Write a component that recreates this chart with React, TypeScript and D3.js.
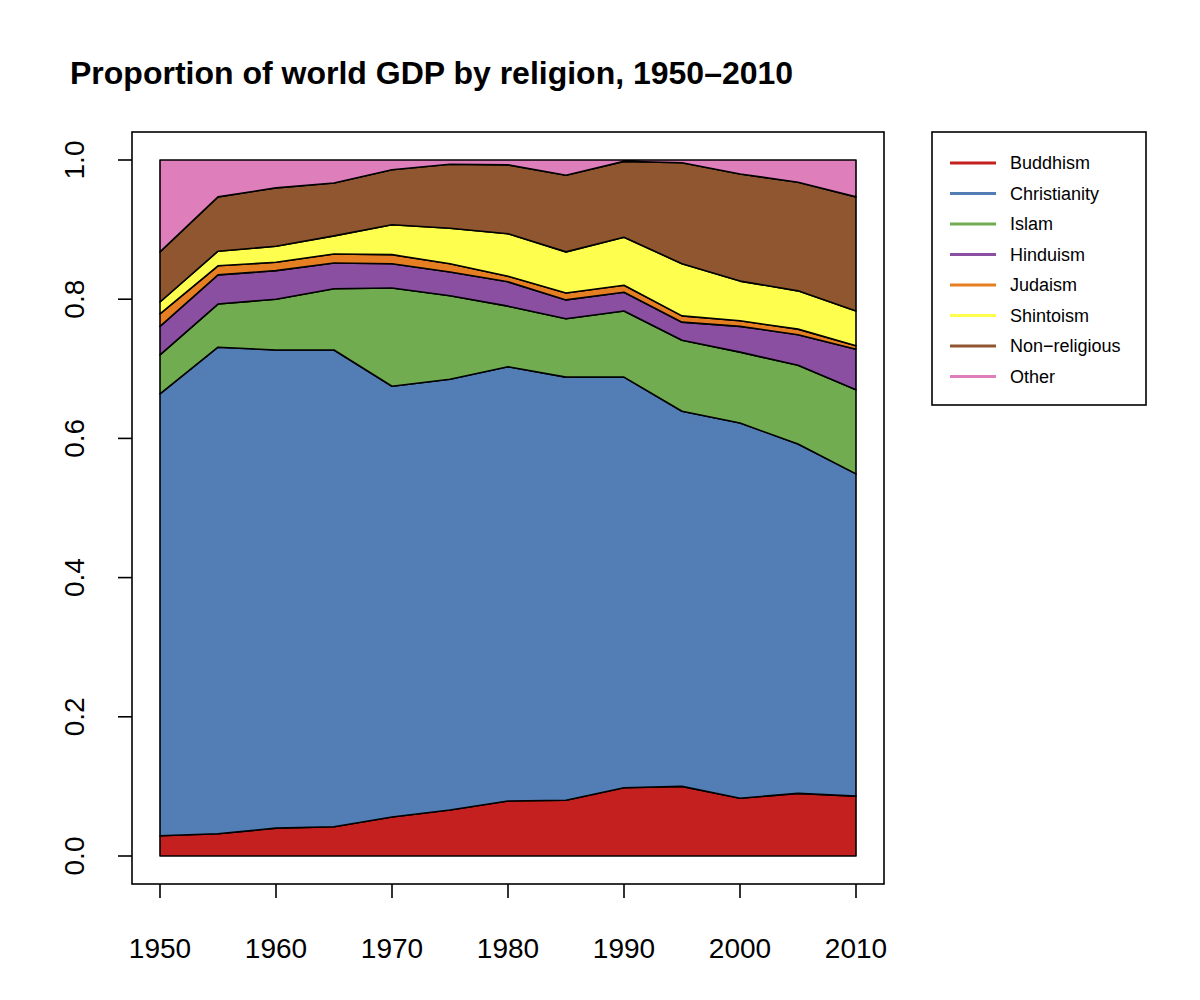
import * as d3 from 'd3';

const years = [1950, 1955, 1960, 1965, 1970, 1975, 1980, 1985, 1990, 1995, 2000, 2005, 2010];
const religions = ['Buddhism', 'Christianity', 'Islam', 'Hinduism', 'Judaism', 'Shintoism', 'Non-religious', 'Other'];
const colors = ['#c4201f', '#527db5', '#71ad50', '#8a4fa0', '#e57f22', '#fefe4f', '#8f5630', '#de7fbc'];

const buddhism = [0.029, 0.032, 0.040, 0.042, 0.056, 0.066, 0.079, 0.080, 0.098, 0.100, 0.083, 0.090, 0.086];
const christianity = [0.635, 0.699, 0.687, 0.685, 0.619, 0.619, 0.624, 0.608, 0.590, 0.539, 0.539, 0.502, 0.463];
const islam = [0.056, 0.062, 0.073, 0.088, 0.141, 0.120, 0.087, 0.084, 0.095, 0.102, 0.102, 0.113, 0.121];
const hinduism = [0.041, 0.042, 0.041, 0.037, 0.035, 0.034, 0.035, 0.027, 0.027, 0.026, 0.037, 0.044, 0.058];
const judaism = [0.018, 0.013, 0.012, 0.013, 0.013, 0.012, 0.008, 0.010, 0.010, 0.009, 0.008, 0.008, 0.005];
const shintoism = [0.017, 0.021, 0.023, 0.026, 0.043, 0.051, 0.061, 0.059, 0.069, 0.075, 0.057, 0.055, 0.050];
const nonReligious = [0.072, 0.078, 0.084, 0.076, 0.079, 0.092, 0.099, 0.110, 0.109, 0.145, 0.154, 0.156, 0.164];
const other = [0.132, 0.053, 0.040, 0.033, 0.014, 0.006, 0.007, 0.022, 0.002, 0.004, 0.020, 0.032, 0.053];

const series = [buddhism, christianity, islam, hinduism, judaism, shintoism, nonReligious, other];
const yTicks = [0, 0.2, 0.4, 0.6, 0.8, 1.0];
const xTicks = [1950, 1960, 1970, 1980, 1990, 2000, 2010];

const font = '"Liberation Sans", Arial, Helvetica, sans-serif';

export default function App() {
  const rows = years.map((y, i) => {
    const r: Record<string, number> = { year: y };
    religions.forEach((name, k) => (r[name] = series[k][i]));
    return r;
  });
  const stacked = d3.stack<Record<string, number>>().keys(religions)(rows);

  const x = d3.scaleLinear().domain([1950, 2010]).range([152, 848]);
  const y = d3.scaleLinear().domain([0, 1]).range([848, 152]);
  const area = d3.area<d3.SeriesPoint<Record<string, number>>>()
    .x(d => x(d.data.year))
    .y0(d => y(d[0]))
    .y1(d => y(d[1]));

  return (
    <svg width={1184} height={984} style={{ display: 'block', fontFamily: font }}>
      <rect width={1184} height={984} fill="#fff" />
      <text x={62} y={76} fontSize={32} fontWeight="bold">Proportion of world GDP by religion, 1950–2010</text>
      {stacked.map((s, k) => (
        <path key={k} d={area(s) ?? ''} fill={colors[k]} stroke="#000" strokeWidth={1.6} strokeLinejoin="round" />
      ))}
      <rect x={124} y={124} width={752} height={752} fill="none" stroke="#000" strokeWidth={1.6} />
      {yTicks.map(t => (
        <g key={t}>
          <line x1={110} x2={124} y1={y(t)} y2={y(t)} stroke="#000" strokeWidth={1.6} />
          <text transform={`translate(76,${y(t)}) rotate(-90)`} textAnchor="middle" fontSize={28}>{t.toFixed(1)}</text>
        </g>
      ))}
      <line x1={110} x2={110} y1={y(0)} y2={y(1)} stroke="none" />
      {xTicks.map(t => (
        <g key={t}>
          <line x1={x(t)} x2={x(t)} y1={876} y2={890} stroke="#000" strokeWidth={1.6} />
          <text x={x(t)} y={950} textAnchor="middle" fontSize={28}>{t}</text>
        </g>
      ))}
      <rect x={924} y={124} width={214} height={273} fill="none" stroke="#000" strokeWidth={1.6} />
      {religions.map((name, k) => {
        const ly = 155 + k * 30.5;
        return (
          <g key={name}>
            <line x1={942} x2={988} y1={ly} y2={ly} stroke={colors[k]} strokeWidth={3} />
            <text x={1002} y={ly + 6} fontSize={18}>{name.replace('-', '−')}</text>
          </g>
        );
      })}
    </svg>
  );
}
